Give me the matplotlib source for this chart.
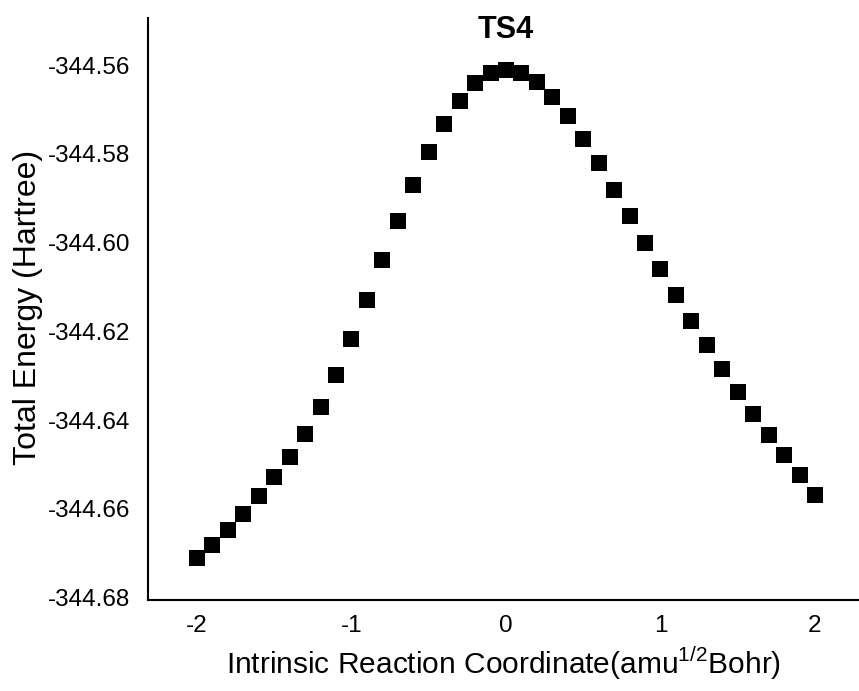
import matplotlib
matplotlib.use("Agg")
import matplotlib.pyplot as plt

plt.rcParams['font.family'] = ['Liberation Sans', 'DejaVu Sans']
plt.rcParams['mathtext.fontset'] = 'custom'
plt.rcParams['mathtext.rm'] = 'Liberation Sans'

irc = [-2.0, -1.9, -1.8, -1.7, -1.6, -1.5, -1.4, -1.3, -1.2, -1.1, -1.0,
       -0.9, -0.8, -0.7, -0.6, -0.5, -0.4, -0.3, -0.2, -0.1, 0.0,
       0.1, 0.2, 0.3, 0.4, 0.5, 0.6, 0.7, 0.8, 0.9, 1.0,
       1.1, 1.2, 1.3, 1.4, 1.5, 1.6, 1.7, 1.8, 1.9, 2.0]
energy = [-344.6711, -344.6681, -344.6647, -344.6611, -344.6571, -344.6529,
          -344.6483, -344.6432, -344.6371, -344.6299, -344.6217, -344.6129,
          -344.6039, -344.5952, -344.5870, -344.5796, -344.5732, -344.5681,
          -344.5641, -344.5617, -344.5612, -344.5619, -344.5639, -344.5673,
          -344.5715, -344.5766, -344.5821, -344.5881, -344.5940, -344.6000,
          -344.6060, -344.6119, -344.6176, -344.6231, -344.6284, -344.6336,
          -344.6386, -344.6433, -344.6479, -344.6524, -344.6568]
xticks = [-2, -1, 0, 1, 2]
yticks = [-344.56, -344.58, -344.60, -344.62, -344.64, -344.66, -344.68]

fig = plt.figure(figsize=(8.59, 6.91), dpi=100)
ax = fig.add_axes([0.1723, 0.1317, 0.8277, 0.8423])
ax.plot(irc, energy, linestyle='none', marker='s', markersize=11.5,
        color='black', markeredgewidth=0)
ax.set_xlim(-2.317, 2.285)
ax.set_ylim(-344.6805, -344.5494)
ax.set_xticks(xticks)
ax.set_xticklabels([str(t) for t in xticks])
ax.set_yticks(yticks)
ax.set_yticklabels([f"{t:.2f}" for t in yticks])
ax.tick_params(length=0, labelsize=17.5)
ax.tick_params(axis='y', pad=13)
ax.tick_params(axis='x', pad=11)
for s in ['top', 'right']:
    ax.spines[s].set_visible(False)
for s in ['left', 'bottom']:
    ax.spines[s].set_linewidth(1.5)
ax.set_xlabel(r"Intrinsic Reaction Coordinate(amu$^{\mathrm{1/2}}$Bohr)", fontsize=21.5)
ax.set_ylabel("Total Energy (Hartree)", fontsize=23)
ax.xaxis.set_label_coords(0.5, -0.108)
ax.xaxis.label.set_va('center')
ax.yaxis.set_label_coords(-0.1688, 0.5026)
ax.yaxis.label.set_va('center')
ax.text(0, -344.5522, "TS4", ha='center', va='center', fontsize=22, fontweight='bold')
fig.savefig("out.png", dpi=100)
